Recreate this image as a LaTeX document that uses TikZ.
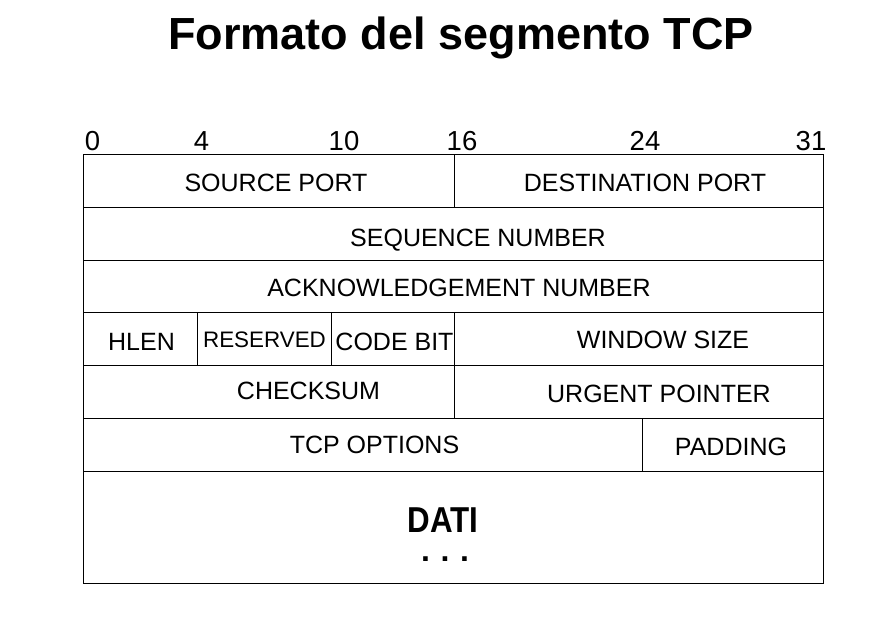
\documentclass[tikz,border=0pt]{standalone}
\usepackage{fontspec}
\setmainfont{Liberation Sans}
\begin{document}
\begin{tikzpicture}[x=1pt,y=-1pt,
  grid/.style={line width=1pt,black},
  field/.style={anchor=base,inner sep=0pt,font=\fontsize{25}{30}\selectfont},
  smallfield/.style={anchor=base,inner sep=0pt,font=\fontsize{22.4}{27}\selectfont},
  bitnum/.style={anchor=base,inner sep=0pt,font=\fontsize{27.5}{33}\selectfont},
  headline/.style={anchor=base,inner sep=0pt,font=\bfseries\fontsize{45}{54}\selectfont},
  datatext/.style={anchor=base,inner sep=0pt,align=center,font=\bfseries\fontsize{36}{29}\selectfont}]
\useasboundingbox (0,0) rectangle (894,618);

% title
\node[headline] (title) at (461,49) {Formato del segmento TCP};

% bit positions
\node[bitnum] (b0)  at (92.5,150)  {0};
\node[bitnum] (b4)  at (201.5,150) {4};
\node[bitnum] (b10) at (344,150) {10};
\node[bitnum] (b16) at (462,150) {16};
\node[bitnum] (b24) at (645,150) {24};
\node[bitnum] (b31) at (811,150) {31};

% frame and row separators
\draw[grid] (83.5,154.5) rectangle (823.5,583.5);
\foreach \y in {207,260,312.5,365,418,471}
  \draw[grid] (83.5,\y) -- (823.5,\y);

% field separators
\draw[grid] (454,154.5) -- (454,207);
\draw[grid] (197.5,312.5) -- (197.5,365);
\draw[grid] (331.5,312.5) -- (331.5,365);
\draw[grid] (454,312.5) -- (454,418);
\draw[grid] (642.5,418) -- (642.5,471);

% field names
\node[field] (srcport)  at (276,191)   {SOURCE PORT};
\node[field] (dstport)  at (645,191)   {DESTINATION PORT};
\node[field] (seqnum)   at (478,246)   {SEQUENCE NUMBER};
\node[field] (acknum)   at (459,296)   {ACKNOWLEDGEMENT NUMBER};
\node[field] (hlen)     at (141.5,350) {HLEN};
\node[smallfield] (reserved) at (264.5,347) {RESERVED};
\node[field] (codebit)  at (394.5,350) {CODE BIT};
\node[field] (window)   at (663,348)   {WINDOW SIZE};
\node[field] (checksum) at (308.5,399) {CHECKSUM};
\node[field] (urgent)   at (659,402)   {URGENT POINTER};
\node[field] (options)  at (374.5,453) {TCP OPTIONS};
\node[field] (padding)  at (731,455)   {PADDING};

% payload: the base anchor sits on the baseline of the last line
\node[datatext] (dati) at (443,561)
  {\scalebox{0.87}[1]{DATI}\\{\fontsize{32}{29}\selectfont\hspace*{4pt}.\,\,.\,\,.}};
\end{tikzpicture}
\end{document}
